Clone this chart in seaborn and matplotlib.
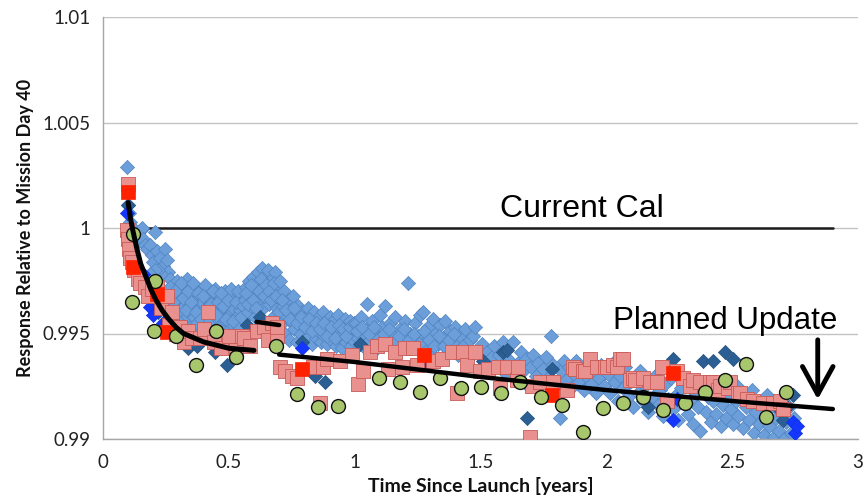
import matplotlib
matplotlib.use("Agg")
import matplotlib.pyplot as plt
import seaborn as sns

# ---------------- data ----------------
# light blue diamonds (main detector series)
lb_x = [0.095,0.100,0.104,0.108,0.112,0.120,0.128,0.135,0.142,0.150,0.155,0.160,0.168,0.175,0.187,0.195,0.207,0.200,0.215,0.225,0.238,0.246,0.254,0.258,0.230,0.220,0.205,0.195,0.210,0.185,
        0.265,0.270,0.275,0.280,0.285,0.290,0.295,0.300,0.305,0.310,0.315,0.320,0.325,0.330,0.335,0.340,0.345,0.350,0.355,0.360,0.365,0.370,0.375,0.380,0.385,0.390,0.395,0.400,0.405,0.410,0.415,0.420,0.425,0.430,0.435,0.440,0.445,0.450,0.455,0.460,0.465,0.470,0.475,0.480,0.485,0.490,0.495,0.500,0.505,0.510,0.515,0.520,0.525,0.530,0.535,0.540,0.545,0.550,0.555,0.560,
        0.268,0.278,0.288,0.298,0.308,0.318,0.328,0.338,0.348,0.358,0.368,0.378,0.388,0.398,0.408,0.418,0.428,0.438,0.448,0.458,0.468,0.478,0.488,0.498,0.508,0.518,0.528,0.538,0.548,0.558,
        0.565,0.570,0.575,0.580,0.585,0.590,0.595,0.600,0.605,0.610,0.615,0.620,0.625,0.630,0.635,0.640,0.645,0.650,0.655,0.660,0.665,0.670,0.675,0.680,0.685,0.690,0.695,0.700,
        0.568,0.578,0.588,0.598,0.608,0.618,0.628,0.638,0.648,0.658,0.668,0.678,0.688,0.698,
        0.705,0.710,0.715,0.720,0.725,0.730,0.735,0.740,0.745,0.750,0.755,0.760,0.765,0.770,0.775,0.780,0.785,0.790,0.795,0.800,0.805,0.810,0.815,0.820,0.825,0.830,0.835,0.840,0.845,0.850,0.855,0.860,0.865,0.870,0.875,0.880,0.885,0.890,0.895,0.900,0.905,0.910,0.915,0.920,0.925,0.930,0.935,0.940,0.945,0.950,0.955,0.960,0.965,0.970,0.975,0.980,0.985,0.990,0.995,
        0.712,0.727,0.742,0.757,0.772,0.787,0.802,0.817,0.832,0.847,0.862,0.877,0.892,0.907,0.922,0.937,0.952,0.967,0.982,0.997,
        1.005,1.015,1.025,1.035,1.045,1.050,1.060,1.070,1.080,1.090,1.100,1.110,1.120,1.130,1.140,1.150,1.160,1.170,1.180,1.190,1.200,1.210,1.220,1.230,1.240,1.250,1.260,1.270,1.280,1.290,1.300,1.310,1.320,1.330,1.340,1.350,1.360,1.370,1.380,1.390,1.400,1.410,1.420,1.430,1.440,1.450,1.460,1.470,1.478,1.490,
        1.010,1.030,1.055,1.075,1.095,1.115,1.135,1.155,1.175,1.195,1.215,1.235,1.255,1.275,1.295,1.315,1.335,1.355,1.375,1.395,
        1.505,1.515,1.525,1.535,1.545,1.555,1.565,1.575,1.590,1.600,1.610,1.620,1.630,1.640,1.650,1.660,1.670,1.680,1.690,1.700,1.710,1.720,1.730,1.740,1.750,1.760,1.770,1.780,1.790,1.800,1.816,1.820,1.830,1.840,1.850,1.860,1.870,1.880,1.890,1.900,1.910,1.920,1.930,1.940,1.950,1.960,1.970,1.980,1.990,
        2.005,2.015,2.025,2.035,2.045,2.055,2.065,2.075,2.085,2.095,2.105,2.115,2.125,2.135,2.145,2.155,2.165,2.175,2.185,2.195,2.205,2.215,2.225,2.235,2.245,2.255,2.265,2.275,2.285,2.295,2.305,2.315,2.325,2.335,2.345,2.355,2.365,2.372,2.385,2.395,2.405,2.415,2.425,2.435,2.445,2.455,2.465,2.475,2.485,2.495,
        2.505,2.515,2.525,2.535,2.545,2.555,2.565,2.575,2.585,2.595,2.605,2.615,2.625,2.635,2.645,2.655,2.665,2.675,2.685,2.695,2.705,2.715,2.725,2.735,2.745,2.520,2.580,2.640,2.700]
lb_y = [1.0029,1.0011,1.0007,1.0003,1.0000,0.9998,0.9999,0.9996,0.9994,0.9999,1.0000,0.9995,0.9992,0.9990,0.9992,0.9987,0.9998,0.9984,0.9989,0.9986,0.9982,0.9990,0.9985,0.9979,0.9978,0.9980,0.9980,0.9976,0.9973,0.9978,
        0.9976,0.9968,0.9961,0.9972,0.9957,0.9965,0.9975,0.9960,0.9969,0.9954,0.9972,0.9963,0.9957,0.9967,0.9976,0.9960,0.9953,0.9970,0.9964,0.9958,0.9972,0.9966,0.9955,0.9962,0.9970,0.9951,0.9965,0.9959,0.9973,0.9956,0.9967,0.9961,0.9952,0.9969,0.9958,0.9964,0.9971,0.9955,0.9962,0.9968,0.9953,0.9960,0.9966,0.9957,0.9970,0.9963,0.9951,0.9959,0.9967,0.9955,0.9962,0.9969,0.9950,0.9958,0.9964,0.9953,0.9961,0.9968,0.9949,0.9957,
        0.9972,0.9965,0.9970,0.9956,0.9974,0.9967,0.9961,0.9970,0.9965,0.9974,0.9960,0.9969,0.9957,0.9968,0.9962,0.9955,0.9964,0.9970,0.9959,0.9965,0.9969,0.9963,0.9957,0.9966,0.9971,0.9956,0.9965,0.9970,0.9958,0.9963,
        0.9966,0.9972,0.9960,0.9975,0.9968,0.9963,0.9977,0.9970,0.9958,0.9974,0.9979,0.9966,0.9971,0.9981,0.9962,0.9975,0.9969,0.9978,0.9980,0.9964,0.9973,0.9976,0.9958,0.9969,0.9979,0.9962,0.9972,0.9967,
        0.9969,0.9964,0.9973,0.9966,0.9962,0.9970,0.9976,0.9968,0.9973,0.9970,0.9966,0.9974,0.9968,0.9960,
        0.9975,0.9955,0.9963,0.9970,0.9950,0.9958,0.9966,0.9947,0.9961,0.9955,0.9968,0.9952,0.9959,0.9946,0.9963,0.9956,0.9950,0.9960,0.9954,0.9947,0.9958,0.9952,0.9962,0.9949,0.9956,0.9945,0.9953,0.9960,0.9948,0.9955,0.9951,0.9958,0.9946,0.9953,0.9960,0.9949,0.9956,0.9945,0.9952,0.9958,0.9947,0.9954,0.9950,0.9957,0.9944,0.9951,0.9959,0.9948,0.9954,0.9943,0.9950,0.9957,0.9946,0.9953,0.9949,0.9956,0.9944,0.9951,0.9947,
        0.9966,0.9961,0.9957,0.9962,0.9955,0.9958,0.9953,0.9957,0.9951,0.9955,0.9952,0.9955,0.9949,0.9953,0.9948,0.9954,0.9952,0.9949,0.9953,0.9955,
        0.9955,0.9948,0.9958,0.9944,0.9952,0.9964,0.9947,0.9956,0.9950,0.9943,0.9959,0.9953,0.9963,0.9946,0.9955,0.9950,0.9958,0.9942,0.9952,0.9947,0.9956,0.9974,0.9950,0.9944,0.9955,0.9949,0.9959,0.9960,0.9946,0.9953,0.9941,0.9957,0.9950,0.9945,0.9954,0.9948,0.9956,0.9942,0.9951,0.9946,0.9953,0.9940,0.9949,0.9944,0.9952,0.9938,0.9947,0.9949,0.9953,0.9941,
        0.9951,0.9953,0.9950,0.9953,0.9948,0.9950,0.9952,0.9946,0.9949,0.9952,0.9947,0.9950,0.9945,0.9951,0.9947,0.9944,0.9949,0.9944,0.9947,0.9950,
        0.9945,0.9937,0.9941,0.9933,0.9939,0.9944,0.9935,0.9940,0.9946,0.9931,0.9938,0.9934,0.9946,0.9929,0.9936,0.9941,0.9932,0.9938,0.9925,0.9934,0.9940,0.9930,0.9936,0.9926,0.9933,0.9939,0.9929,0.9949,0.9935,0.9927,0.9910,0.9932,0.9937,0.9928,0.9934,0.9924,0.9931,0.9937,0.9927,0.9933,0.9923,0.9930,0.9936,0.9926,0.9932,0.9922,0.9929,0.9935,0.9925,
        0.9931,0.9922,0.9936,0.9927,0.9918,0.9930,0.9924,0.9934,0.9920,0.9927,0.9915,0.9929,0.9922,0.9932,0.9918,0.9925,0.9913,0.9927,0.9920,0.9930,0.9916,0.9923,0.9911,0.9926,0.9919,0.9929,0.9914,0.9921,0.9909,0.9924,0.9917,0.9927,0.9912,0.9919,0.9907,0.9922,0.9915,0.9904,0.9925,0.9913,0.9920,0.9908,0.9918,0.9912,0.9923,0.9906,0.9916,0.9910,0.9921,0.9914,
        0.9907,0.9918,0.9911,0.9922,0.9905,0.9915,0.9909,0.9919,0.9903,0.9913,0.9907,0.9917,0.9902,0.9911,0.9906,0.9915,0.9901,0.9910,0.9904,0.9913,0.9900,0.9908,0.9915,0.9903,0.9910,0.9925,0.9923,0.9921,0.9918]

# dark blue diamonds
db_x = [0.100,0.219,0.338,0.373,0.445,0.493,0.572,0.624,0.790,0.842,0.882,1.021,1.510,1.590,1.605,1.685,1.784,2.165,2.265,2.384,2.424,2.471,2.503,2.678,2.702,2.718,2.741]
db_y = [1.0011,0.9960,0.9943,0.9944,0.9941,0.9935,0.9954,0.9958,0.9946,0.9930,0.9927,0.9945,0.9937,0.9941,0.9942,0.9910,0.9933,0.9915,0.9938,0.9937,0.9937,0.9941,0.9938,0.9915,0.9909,0.9915,0.9921]

# bright blue diamonds
bb_x = [0.097,0.107,0.159,0.187,0.199,0.226,0.238,0.790,1.287,2.265,2.280,2.741,2.749,2.757]
bb_y = [1.0007,0.9984,0.9978,0.99625,0.9959,0.9964,0.9955,0.9943,0.9936,0.9909,0.9919,0.9908,0.9903,0.9906]

# pink squares
ps_x = [0.098,0.096,0.100,0.105,0.108,0.115,0.125,0.140,0.148,0.165,0.180,0.195,0.214,0.230,0.254,0.262,0.274,0.290,0.306,0.320,0.338,0.355,0.385,0.400,0.417,0.440,0.470,0.500,0.530,0.552,0.560,0.585,0.610,0.640,0.655,0.670,0.690,
        0.690,0.703,0.723,0.750,0.771,0.835,0.862,0.874,0.890,0.942,0.989,1.013,1.033,1.061,1.090,1.120,1.132,1.160,1.188,1.200,1.232,1.247,1.311,1.347,1.387,1.406,1.430,1.446,
        1.478,1.498,1.530,1.569,1.577,1.605,1.645,1.649,1.696,1.704,1.736,1.788,1.843,1.867,1.875,1.907,1.915,1.935,1.963,1.994,2.002,2.026,2.042,2.054,2.066,2.094,2.106,2.114,2.145,2.173,
        2.201,2.221,2.241,2.280,2.304,2.332,2.344,2.372,2.412,2.424,2.443,2.451,2.483,2.491,2.523,2.531,2.559,2.582,2.622,2.662,2.690,2.702]
ps_y = [1.0021,0.9999,0.9995,0.9990,0.9986,0.9984,0.9980,0.9976,0.9974,0.9972,0.9968,0.9971,0.9972,0.9962,0.9968,0.9954,0.9960,0.9950,0.9953,0.9946,0.9951,0.9948,0.9948,0.9952,0.9960,0.9946,0.9943,0.9949,0.9942,0.9949,0.9948,0.9944,0.9951,0.9953,0.9947,0.9955,0.9949,
        0.9953,0.9934,0.9932,0.9930,0.9929,0.9934,0.9917,0.9934,0.9938,0.9937,0.9940,0.9926,0.9932,0.9941,0.9944,0.9945,0.9933,0.9941,0.9934,0.9943,0.9943,0.9935,0.9937,0.9938,0.9941,0.9922,0.9941,0.9935,
        0.9941,0.9932,0.9933,0.9934,0.9924,0.9934,0.9928,0.9934,0.9901,0.9925,0.9927,0.9927,0.9923,0.9934,0.9933,0.9932,0.9932,0.9938,0.9934,0.9934,0.9934,0.9935,0.9934,0.9938,0.9938,0.9928,0.9929,0.9928,0.9929,0.9927,
        0.9927,0.9934,0.9918,0.9932,0.9929,0.9925,0.9928,0.9927,0.9927,0.9927,0.9923,0.9925,0.9924,0.9927,0.9922,0.9922,0.9919,0.9918,0.9917,0.9917,0.9918,0.9914]

# red squares
rs_x = [0.100,0.119,0.214,0.254,0.790,1.275,1.784,2.266]
rs_y = [1.0017,0.99815,0.99687,0.99507,0.99332,0.99398,0.99208,0.99313]

# green circles
gc_x = [0.119,0.115,0.207,0.203,0.290,0.370,0.449,0.528,0.687,0.771,0.854,0.934,1.097,1.180,1.259,1.339,1.422,1.502,1.581,1.657,1.740,1.824,1.907,1.986,2.066,2.145,2.225,2.312,2.392,2.471,2.555,2.634,2.714]
gc_y = [0.99972,0.9965,0.99749,0.99512,0.99488,0.99350,0.99512,0.99389,0.99441,0.99213,0.99152,0.99156,0.99289,0.9927,0.99223,0.99289,0.99242,0.99246,0.99218,0.9927,0.99199,0.99161,0.99033,0.99147,0.9917,0.99199,0.99137,0.9917,0.99223,0.9928,0.99355,0.99104,0.99223]

# fitted curves
fit1_x = [0.100,0.110,0.120,0.135,0.150,0.170,0.190,0.210,0.235,0.260,0.290,0.320,0.360,0.400,0.450,0.500,0.550,0.600]
fit1_y = [1.0012,1.0004,0.9998,0.9990,0.9983,0.9977,0.9971,0.9966,0.9961,0.9957,0.9953,0.9950,0.9948,0.9946,0.99445,0.9943,0.99425,0.9942]
fit2_x = [0.61,0.70]
fit2_y = [0.99555,0.9954]
fit3_x = [0.70,1.0,1.5,2.0,2.5,2.9]
fit3_y = [0.9940,0.99365,0.99294,0.99232,0.9918,0.99142]
cal_x = [0.1,2.9]
cal_y = [1.0,1.0]

x_ticks = [0,0.5,1,1.5,2,2.5,3]
x_ticklabels = ["0","0.5","1","1.5","2","2.5","3"]
y_ticks = [0.99,0.995,1.0,1.005,1.01]
y_ticklabels = ["0.99","0.995","1","1.005","1.01"]

# ---------------- plot ----------------
sns.set_theme(style="white")
plt.rcParams['font.family'] = ['Lato', 'DejaVu Sans']

fig = plt.figure(figsize=(8.65, 5.03), dpi=100)
ax = fig.add_axes([103/865, 1-439/503, (858-103)/865, (439-17)/503])

for yv in y_ticks:
    ax.axhline(yv, color='#C3C3C3', lw=1.0, zorder=0)

sns.lineplot(x=cal_x, y=cal_y, ax=ax, color='#1a1a1a', lw=1.8, sort=False, estimator=None, zorder=1)

sns.scatterplot(x=lb_x, y=lb_y, ax=ax, marker='D', s=52, color='#6C9FD9', edgecolor='#4F83C2', linewidth=0.5, zorder=2)
sns.scatterplot(x=db_x, y=db_y, ax=ax, marker='D', s=52, color='#2B5F93', edgecolor='#23507D', linewidth=0.5, zorder=3)
sns.scatterplot(x=bb_x, y=bb_y, ax=ax, marker='D', s=52, color='#1436FF', edgecolor='#1030E0', linewidth=0.5, zorder=3)
sns.scatterplot(x=ps_x, y=ps_y, ax=ax, marker='s', s=100, color='#E8918E', edgecolor='#C85A57', linewidth=0.6, zorder=4)
sns.scatterplot(x=rs_x, y=rs_y, ax=ax, marker='s', s=105, color='#FF2200', edgecolor='#FF2200', linewidth=0.5, zorder=5)
sns.scatterplot(x=gc_x, y=gc_y, ax=ax, marker='o', s=100, color='#A8C66C', edgecolor='#111111', linewidth=1.0, zorder=6)

sns.lineplot(x=fit1_x, y=fit1_y, ax=ax, color='black', lw=3.6, sort=False, estimator=None, zorder=7)
sns.lineplot(x=fit2_x, y=fit2_y, ax=ax, color='black', lw=3.2, sort=False, estimator=None, zorder=7)
sns.lineplot(x=fit3_x, y=fit3_y, ax=ax, color='black', lw=3.2, sort=False, estimator=None, zorder=7)

ax.text(1.903, 1.0009, "Current Cal", fontsize=23, family=['Liberation Sans'], color='black',
        ha='center', va='center', zorder=8)
ax.text(2.471, 0.99560, "Planned Update", fontsize=22.5, family=['Liberation Sans'], color='black',
        ha='center', va='center', zorder=8)
ax.annotate("", xy=(2.84, 0.99188), xytext=(2.84, 0.99470),
            arrowprops=dict(arrowstyle='->, head_length=1.0, head_width=0.55', lw=3.5, color='black',
                            mutation_scale=20, shrinkA=0, shrinkB=0),
            zorder=8)

ax.set_xlim(0, 3)
ax.set_ylim(0.99, 1.01)
ax.set_xticks(x_ticks)
ax.set_xticklabels(x_ticklabels)
ax.set_yticks(y_ticks)
ax.set_yticklabels(y_ticklabels)
ax.tick_params(axis='both', labelsize=13.5, colors='#999999', labelcolor='#222222', length=5, width=1, direction='out')
ax.tick_params(axis='x', pad=6)
ax.tick_params(axis='y', pad=4)
for side in ['top', 'right']:
    ax.spines[side].set_visible(False)
for side in ['left', 'bottom']:
    ax.spines[side].set_color('#A6A6A6')
    ax.spines[side].set_linewidth(1)

ax.set_xlabel("Time Since Launch [years]", fontsize=14, fontweight='bold', color='#111111', labelpad=4)
ax.set_ylabel("Response Relative to Mission Day 40", fontsize=13, fontweight='bold', color='#111111', labelpad=6)

fig.savefig("out.png", dpi=100)
